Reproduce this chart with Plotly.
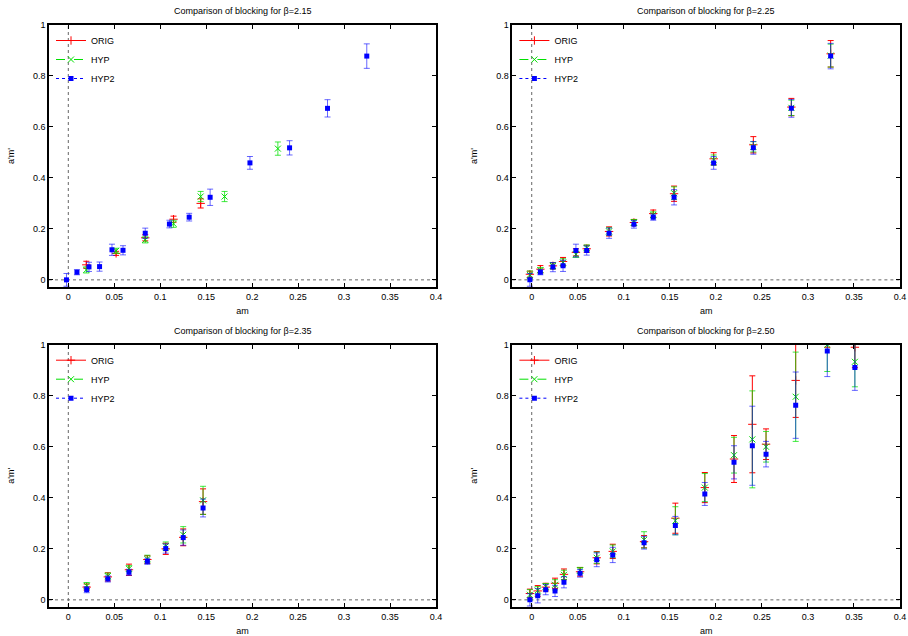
import plotly.graph_objects as go

# ---------------- data ----------------
# beta = 2.15
am_215_orig = [0.0196, 0.052, 0.0837, 0.1145, 0.144]
y_215_orig = [0.059, 0.104, 0.165, 0.238, 0.300]
e_215_orig = [0.014, 0.008, 0.012, 0.012, 0.018]
am_215_hyp = [0.0196, 0.052, 0.0837, 0.1145, 0.144, 0.170, 0.228]
y_215_hyp = [0.039, 0.114, 0.157, 0.220, 0.327, 0.327, 0.515]
e_215_hyp = [0.012, 0.010, 0.012, 0.014, 0.020, 0.020, 0.026]
am_215_hyp2 = [-0.002, 0.0094, 0.0225, 0.034, 0.0475, 0.0595, 0.0837, 0.110, 0.1315, 0.1543, 0.1976, 0.2407, 0.282, 0.3247]
y_215_hyp2 = [0.0, 0.030, 0.051, 0.052, 0.118, 0.116, 0.183, 0.219, 0.246, 0.324, 0.459, 0.518, 0.673, 0.878]
e_215_hyp2 = [0.025, 0.010, 0.018, 0.018, 0.022, 0.018, 0.020, 0.015, 0.015, 0.032, 0.025, 0.028, 0.034, 0.048]

# beta = 2.25
am_225 = [-0.002, 0.0094, 0.023, 0.034, 0.048, 0.0597, 0.084, 0.111, 0.132, 0.1546, 0.1976, 0.2407, 0.282, 0.3247]
y_225_orig = [0.022, 0.042, 0.055, 0.072, 0.108, 0.122, 0.190, 0.225, 0.260, 0.338, 0.475, 0.530, 0.678, 0.887]
e_225_orig = [0.012, 0.014, 0.012, 0.016, 0.014, 0.014, 0.018, 0.012, 0.014, 0.030, 0.024, 0.032, 0.034, 0.052]
y_225_hyp = [0.020, 0.038, 0.055, 0.068, 0.100, 0.125, 0.190, 0.225, 0.255, 0.340, 0.470, 0.522, 0.675, 0.880]
e_225_hyp = [0.015, 0.010, 0.012, 0.015, 0.012, 0.012, 0.015, 0.012, 0.012, 0.025, 0.020, 0.020, 0.030, 0.045]
y_225_hyp2 = [0.0, 0.030, 0.050, 0.055, 0.115, 0.115, 0.183, 0.218, 0.246, 0.324, 0.459, 0.518, 0.673, 0.878]
e_225_hyp2 = [0.025, 0.010, 0.018, 0.022, 0.025, 0.018, 0.020, 0.015, 0.012, 0.030, 0.025, 0.025, 0.035, 0.050]

# beta = 2.35
am_235 = [0.020, 0.043, 0.066, 0.086, 0.106, 0.125, 0.1466]
y_235_orig = [0.050, 0.090, 0.118, 0.158, 0.200, 0.245, 0.385]
e_235_orig = [0.012, 0.016, 0.022, 0.015, 0.022, 0.033, 0.050]
y_235_hyp = [0.055, 0.093, 0.122, 0.160, 0.210, 0.255, 0.390]
e_235_hyp = [0.013, 0.012, 0.012, 0.015, 0.017, 0.032, 0.055]
y_235_hyp2 = [0.040, 0.082, 0.108, 0.151, 0.201, 0.244, 0.360]
e_235_hyp2 = [0.012, 0.012, 0.012, 0.012, 0.018, 0.030, 0.035]

# beta = 2.50
am_250 = [-0.002, 0.0065, 0.0152, 0.0253, 0.035, 0.0525, 0.0706, 0.088, 0.122, 0.156, 0.188, 0.2197, 0.2396, 0.2545, 0.2867, 0.321, 0.351]
y_250_orig = [0.025, 0.035, 0.050, 0.065, 0.100, 0.110, 0.165, 0.190, 0.228, 0.320, 0.440, 0.552, 0.688, 0.610, 0.860, 1.090, 0.990]
e_250_orig = [0.017, 0.021, 0.015, 0.020, 0.021, 0.017, 0.024, 0.028, 0.024, 0.059, 0.059, 0.092, 0.190, 0.060, 0.145, 0.100, 0.080]
y_250_hyp = [0.020, 0.037, 0.052, 0.059, 0.098, 0.115, 0.165, 0.190, 0.235, 0.310, 0.440, 0.567, 0.629, 0.600, 0.796, 1.000, 0.933]
e_250_hyp = [0.020, 0.015, 0.012, 0.020, 0.018, 0.012, 0.022, 0.025, 0.032, 0.055, 0.055, 0.070, 0.190, 0.060, 0.175, 0.105, 0.098]
y_250_hyp2 = [0.0, 0.016, 0.040, 0.035, 0.069, 0.104, 0.157, 0.176, 0.224, 0.291, 0.415, 0.539, 0.604, 0.571, 0.763, 0.975, 0.911]
e_250_hyp2 = [0.024, 0.028, 0.020, 0.022, 0.022, 0.015, 0.027, 0.030, 0.025, 0.036, 0.045, 0.065, 0.155, 0.050, 0.130, 0.100, 0.090]

titles = ["Comparison of blocking for β=2.15", "Comparison of blocking for β=2.25",
          "Comparison of blocking for β=2.35", "Comparison of blocking for β=2.50"]
series_names = ["ORIG", "HYP", "HYP2"]
x_ticks = [0, 0.05, 0.1, 0.15, 0.2, 0.25, 0.3, 0.35, 0.4]
x_tick_text = ["0", "0.05", "0.1", "0.15", "0.2", "0.25", "0.3", "0.35", "0.4"]
y_ticks = [0, 0.2, 0.4, 0.6, 0.8, 1]
y_tick_text = ["0", "0.2", "0.4", "0.6", "0.8", "1"]

panels = [
    [(am_215_orig, y_215_orig, e_215_orig), (am_215_hyp, y_215_hyp, e_215_hyp), (am_215_hyp2, y_215_hyp2, e_215_hyp2)],
    [(am_225, y_225_orig, e_225_orig), (am_225, y_225_hyp, e_225_hyp), (am_225, y_225_hyp2, e_225_hyp2)],
    [(am_235, y_235_orig, e_235_orig), (am_235, y_235_hyp, e_235_hyp), (am_235, y_235_hyp2, e_235_hyp2)],
    [(am_250, y_250_orig, e_250_orig), (am_250, y_250_hyp, e_250_hyp), (am_250, y_250_hyp2, e_250_hyp2)],
]

# ---------------- styling ----------------
W, H = 908, 636
FONT = "Liberation Sans, Arial, sans-serif"
marker_styles = [
    dict(symbol="cross-thin", size=6, color="#ff0000", line=dict(color="#ff0000", width=1)),
    dict(symbol="x-thin", size=6, color="#00e000", line=dict(color="#00e000", width=1)),
    dict(symbol="square", size=5, color="#0000ff", line=dict(color="#0000ff", width=0)),
]
err_colors = ["#ff0000", "rgba(0,225,0,0.75)", "rgba(0,0,255,0.6)"]
legend_lines = [dict(color="#ff0000", width=1, dash="solid"),
                dict(color="#00e000", width=1, dash="dash"),
                dict(color="#0000ff", width=1, dash="dot")]

# plot-area boxes in pixels: (left, right, top, bottom)
boxes = [(49, 436, 25, 287), (512.4, 900, 25, 287),
         (49, 436, 344.7, 607), (512.4, 900, 344.7, 607)]


def px_x(v):
    return v / W


def px_y(v):
    return 1 - v / H


fig = go.Figure()
layout = dict(width=W, height=H, margin=dict(l=0, r=0, t=0, b=0, autoexpand=False),
              paper_bgcolor="white", plot_bgcolor="white",
              font=dict(family=FONT, size=9, color="black"),
              showlegend=True, annotations=[], shapes=[])

for p, (series, title, box) in enumerate(zip(panels, titles, boxes)):
    idx = "" if p == 0 else str(p + 1)
    xa, ya = "x" + idx, "y" + idx
    l, r, t, b = box
    xdom = [px_x(l), px_x(r)]
    ydom = [px_y(b), px_y(t)]
    legname = "legend" + idx
    for s, (xs, ys, es) in enumerate(series):
        fig.add_trace(go.Scatter(
            x=xs, y=ys, mode="markers", name=series_names[s], xaxis=xa, yaxis=ya,
            marker=marker_styles[s], showlegend=False,
            error_y=dict(type="data", array=es, visible=True, color=err_colors[s],
                         thickness=1, width=3)))
    for s in range(3):
        fig.add_trace(go.Scatter(
            x=[None], y=[None], mode="lines+markers", name=series_names[s],
            xaxis=xa, yaxis=ya, marker=marker_styles[s], line=legend_lines[s],
            legend=legname, showlegend=True))
    axis_common = dict(showline=True, linecolor="black", linewidth=1.6, mirror="ticks",
                       ticks="inside", ticklen=4, tickwidth=1, tickcolor="black",
                       showgrid=False, zeroline=False, automargin=False,
                       ticklabeloverflow="allow",
                       tickfont=dict(family=FONT, size=9, color="black"))
    layout["xaxis" + idx] = dict(axis_common, domain=xdom, range=[-0.021, 0.4],
                                 tickvals=x_ticks, ticktext=x_tick_text, anchor=ya,
                                 title=dict(text="am", standoff=7, font=dict(size=9)))
    layout["yaxis" + idx] = dict(axis_common, domain=ydom, range=[-0.028, 1.0],
                                 tickvals=y_ticks, ticktext=y_tick_text, anchor=xa,
                                 title=dict(text="a'm'", standoff=17, font=dict(size=9)))
    layout[legname] = dict(x=px_x(l + 2), y=px_y(t + 1), xanchor="left", yanchor="top",
                           bgcolor="rgba(0,0,0,0)", borderwidth=0, itemwidth=30,
                           font=dict(family=FONT, size=9), tracegroupgap=0)
    layout["annotations"].append(dict(
        text=title, xref="paper", yref="paper", x=px_x((l + r) / 2), y=px_y(t - 14),
        xanchor="center", yanchor="middle", showarrow=False, font=dict(family=FONT, size=9)))
    # dotted zero axes
    layout["shapes"].append(dict(type="line", xref=xa, yref=ya + " domain", x0=0, x1=0, y0=0, y1=1,
                                 line=dict(color="#666", width=1, dash="dot"), layer="below"))
    layout["shapes"].append(dict(type="line", xref=xa + " domain", yref=ya, x0=0, x1=1, y0=0, y1=0,
                                 line=dict(color="#666", width=1, dash="dot"), layer="below"))

fig.update_layout(**layout)
fig.write_html("out.html", config={"displayModeBar": False},
               post_script="document.body.style.margin='0px';document.body.style.overflow='hidden';")
